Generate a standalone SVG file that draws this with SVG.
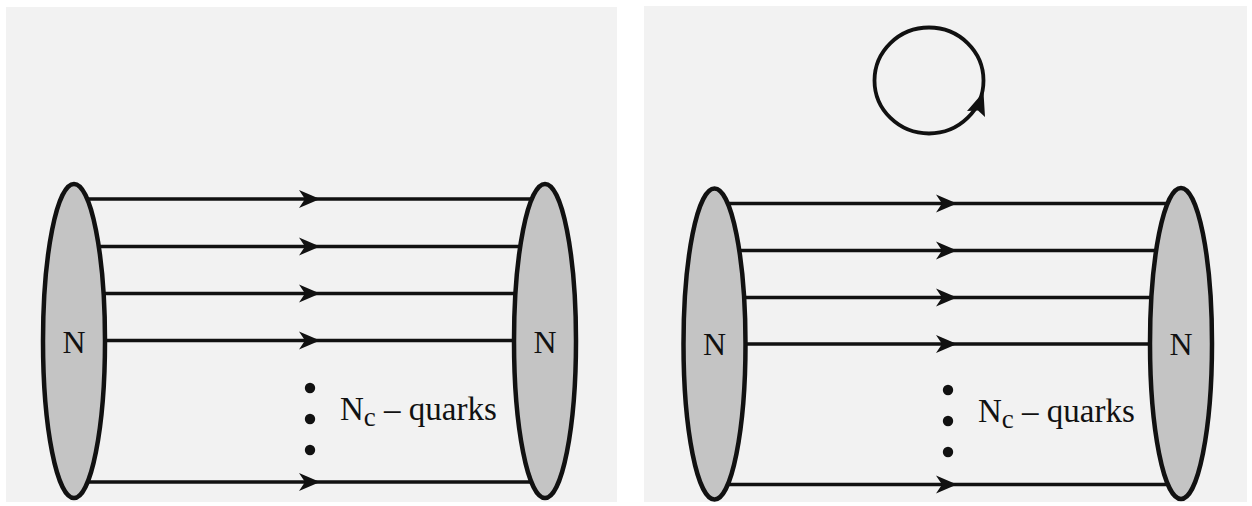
<svg xmlns="http://www.w3.org/2000/svg" width="1252" height="506" viewBox="0 0 1252 506">
<style>
.panel{fill:#f2f2f2}
.q{stroke:#111;stroke-width:3.5;fill:none}
.ah{fill:#111}
.nuc{fill:#c4c4c4;stroke:#111;stroke-width:4.5}
.lbl{font-family:"Liberation Serif","Times New Roman",serif;font-size:32px;fill:#111}
.big{font-size:33px}
.dot{fill:#111}
</style>
<defs>
<path id="arr" class="ah" d="M0,0 L-21,-9 L-15,0 L-21,9 Z"/>
</defs>
<rect x="0" y="0" width="1252" height="506" fill="#ffffff"/>
<rect class="panel" x="6" y="7" width="611" height="495"/>
<rect class="panel" x="644" y="6" width="603" height="496"/>

<g id="connectors">
  <g id="left-panel-quarks">
    <line class="q" x1="74" y1="199" x2="545" y2="199"/>
    <line class="q" x1="74" y1="246.5" x2="545" y2="246.5"/>
    <line class="q" x1="74" y1="293.5" x2="545" y2="293.5"/>
    <line class="q" x1="74" y1="340.5" x2="545" y2="340.5"/>
    <line class="q" x1="74" y1="482" x2="545" y2="482"/>
    <use href="#arr" x="320" y="199"/>
    <use href="#arr" x="320" y="246.5"/>
    <use href="#arr" x="320" y="293.5"/>
    <use href="#arr" x="320" y="340.5"/>
    <use href="#arr" x="320" y="482"/>
  </g>
  <g id="right-panel-quarks">
    <line class="q" x1="715" y1="203.5" x2="1181" y2="203.5"/>
    <line class="q" x1="715" y1="250.5" x2="1181" y2="250.5"/>
    <line class="q" x1="715" y1="297.5" x2="1181" y2="297.5"/>
    <line class="q" x1="715" y1="344" x2="1181" y2="344"/>
    <line class="q" x1="715" y1="484.5" x2="1181" y2="484.5"/>
    <use href="#arr" x="957" y="203.5"/>
    <use href="#arr" x="957" y="250.5"/>
    <use href="#arr" x="957" y="297.5"/>
    <use href="#arr" x="957" y="344"/>
    <use href="#arr" x="957" y="484.5"/>
  </g>
  <g id="loop">
    <ellipse cx="929" cy="80.5" rx="54.5" ry="53" fill="none" stroke="#111" stroke-width="3.8"/>
    <path class="ah" d="M983.5,92 L985,117 L978,110.5 L967,111 Z"/>
  </g>
</g>

<g id="nucleon-L1">
  <ellipse class="nuc" cx="74" cy="341" rx="31" ry="157"/>
  <text class="lbl" x="74" y="352.5" text-anchor="middle">N</text>
</g>
<g id="nucleon-L2">
  <ellipse class="nuc" cx="545" cy="341" rx="31" ry="157"/>
  <text class="lbl" x="545" y="352.5" text-anchor="middle">N</text>
</g>
<g id="nucleon-R1">
  <ellipse class="nuc" cx="714.5" cy="344" rx="31" ry="155.5"/>
  <text class="lbl" x="714.5" y="355" text-anchor="middle">N</text>
</g>
<g id="nucleon-R2">
  <ellipse class="nuc" cx="1181" cy="343.5" rx="31" ry="155.5"/>
  <text class="lbl" x="1181" y="355" text-anchor="middle">N</text>
</g>

<g id="label-left">
  <circle class="dot" cx="310" cy="388" r="5.2"/>
  <circle class="dot" cx="310" cy="419" r="5.2"/>
  <circle class="dot" cx="310" cy="450" r="5.2"/>
  <text class="lbl big" x="340" y="419.5">N<tspan font-size="27" dy="6">c</tspan><tspan dy="-6"> – quarks</tspan></text>
</g>
<g id="label-right">
  <circle class="dot" cx="948" cy="390" r="5.2"/>
  <circle class="dot" cx="948" cy="421" r="5.2"/>
  <circle class="dot" cx="948" cy="452" r="5.2"/>
  <text class="lbl big" x="978" y="421.5">N<tspan font-size="27" dy="6">c</tspan><tspan dy="-6"> – quarks</tspan></text>
</g>
</svg>
